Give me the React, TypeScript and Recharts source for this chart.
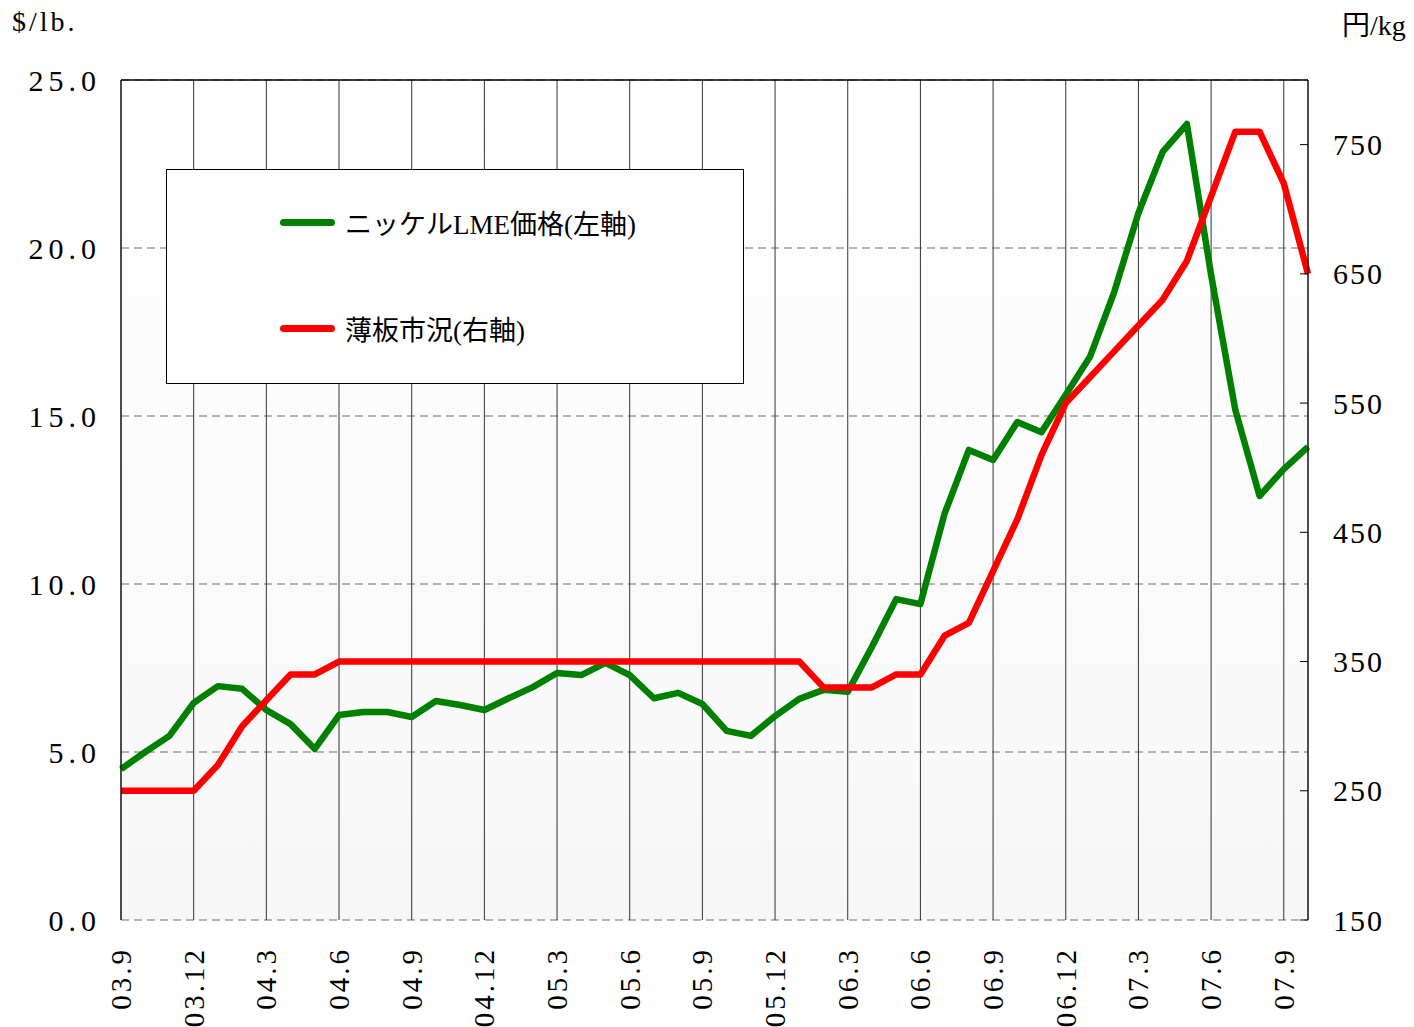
import React from 'react';
import {
  LineChart,
  Line,
  XAxis,
  YAxis,
  CartesianGrid,
  ReferenceLine,
} from 'recharts';

const months = [
  '03.9', '03.10', '03.11', '03.12', '04.1', '04.2', '04.3', '04.4', '04.5', '04.6',
  '04.7', '04.8', '04.9', '04.10', '04.11', '04.12', '05.1', '05.2', '05.3', '05.4',
  '05.5', '05.6', '05.7', '05.8', '05.9', '05.10', '05.11', '05.12', '06.1', '06.2',
  '06.3', '06.4', '06.5', '06.6', '06.7', '06.8', '06.9', '06.10', '06.11', '06.12',
  '07.1', '07.2', '07.3', '07.4', '07.5', '07.6', '07.7', '07.8', '07.9', '07.10',
];

// ニッケルLME価格 ($/lb.)
const nickel = [
  4.49, 5.0, 5.48, 6.46, 6.96, 6.88, 6.25, 5.83, 5.09, 6.1,
  6.19, 6.19, 6.04, 6.52, 6.4, 6.25, 6.6, 6.93, 7.35, 7.29,
  7.65, 7.29, 6.6, 6.76, 6.43, 5.63, 5.48, 6.07, 6.58, 6.85,
  6.79, 8.13, 9.55, 9.4, 12.1, 13.99, 13.69, 14.82, 14.52, 15.63,
  16.76, 18.69, 21.04, 22.86, 23.69, 19.2, 15.18, 12.62, 13.42, 14.08,
];

// 薄板市況 (円/kg)
const sheet = [
  250, 250, 250, 250, 270, 300, 320, 340, 340, 350,
  350, 350, 350, 350, 350, 350, 350, 350, 350, 350,
  350, 350, 350, 350, 350, 350, 350, 350, 350, 330,
  330, 330, 340, 340, 370, 380, 420, 460, 510, 550,
  570, 590, 610, 630, 660, 710, 760, 760, 720, 650,
];

const leftTicks = [0, 5, 10, 15, 20, 25];
const rightTicks = [150, 250, 350, 450, 550, 650, 750];

const legendItems = [
  { label: 'ニッケルLME価格(左軸)', color: '#008000' },
  { label: '薄板市況(右軸)', color: '#ff0000' },
];

const data = months.map((m, i) => ({ month: m, nickel: nickel[i], sheet: sheet[i] }));

const FONT = "'Liberation Serif', 'Noto Sans CJK JP', serif";

const XTick = ({ x, y, payload }: any) => {
  const ty = y + 25;
  return (
    <text
      x={x}
      y={ty}
      transform={`rotate(-90 ${x} ${ty})`}
      textAnchor="end"
      dominantBaseline="central"
      fontFamily={FONT}
      fontSize={29}
      letterSpacing={3}
      fill="#000"
    >
      {payload.value}
    </text>
  );
};

export default function App() {
  return (
    <div style={{ position: 'absolute', left: 0, top: 0, width: 1414, height: 1027, background: '#fff' }}>
      <div style={{ position: 'absolute', left: 12, top: 6, fontFamily: FONT, fontSize: 28, letterSpacing: 3 }}>$/lb.</div>
      <div style={{ position: 'absolute', left: 1342, top: 3, fontFamily: FONT, fontSize: 28 }}>円/kg</div>
      <LineChart width={1414} height={1027} data={data} margin={{ top: 80, right: 0, bottom: 0, left: 0 }}>
        <defs>
          <linearGradient id="plotBg" x1="0" y1="0" x2="0" y2="1">
            <stop offset="0%" stopColor="#ffffff" />
            <stop offset="100%" stopColor="#f7f7f7" />
          </linearGradient>
        </defs>
        <CartesianGrid
          yAxisId="left"
          vertical={false}
          strokeDasharray="8 5"
          stroke="#6f6f6f"
          fill="url(#plotBg)"
          fillOpacity={1}
        />
        <CartesianGrid yAxisId="left" horizontal={false} stroke="#333" />
        <XAxis
          dataKey="month"
          interval={2}
          height={107}
          axisLine={false}
          tickLine={false}
          tickSize={0}
          tick={<XTick />}
        />
        <YAxis
          yAxisId="left"
          orientation="left"
          width={121}
          domain={[0, 25]}
          ticks={leftTicks}
          tickFormatter={(v: number) => v.toFixed(1)}
          axisLine={{ stroke: '#000' }}
          tickLine={false}
          tickSize={8}
          tickMargin={12}
          tick={{ fill: '#000', fontFamily: FONT, fontSize: 30, letterSpacing: 5 }}
        />
        <YAxis
          yAxisId="right"
          orientation="right"
          width={106}
          domain={[150, 800]}
          ticks={rightTicks}
          axisLine={{ stroke: '#000' }}
          tickLine={{ stroke: '#000' }}
          tickSize={-8}
          tickMargin={33}
          tick={{ fill: '#000', fontFamily: FONT, fontSize: 30, letterSpacing: 2 }}
        />
        <ReferenceLine yAxisId="left" y={25} stroke="#000" strokeWidth={1.5} />
        <Line
          yAxisId="left"
          type="linear"
          dataKey="nickel"
          stroke="#008000"
          strokeWidth={6.5}
          strokeLinejoin="round"
          dot={false}
          activeDot={false}
          isAnimationActive={false}
        />
        <Line
          yAxisId="right"
          type="linear"
          dataKey="sheet"
          stroke="#ff0000"
          strokeWidth={6.5}
          strokeLinejoin="round"
          dot={false}
          activeDot={false}
          isAnimationActive={false}
        />
      </LineChart>
      <div
        style={{
          position: 'absolute',
          left: 166,
          top: 169,
          width: 578,
          height: 215,
          boxSizing: 'border-box',
          border: '1px solid #000',
          background: '#fff',
          fontFamily: FONT,
          fontSize: 27,
        }}
      >
        {legendItems.map((it, i) => (
          <div
            key={it.label}
            style={{ position: 'absolute', left: 113, top: 33 + i * 106, display: 'flex', alignItems: 'center' }}
          >
            <div style={{ width: 55, height: 7, borderRadius: 4, background: it.color, marginRight: 10 }} />
            <span style={{ whiteSpace: 'nowrap' }}>{it.label}</span>
          </div>
        ))}
      </div>
    </div>
  );
}
